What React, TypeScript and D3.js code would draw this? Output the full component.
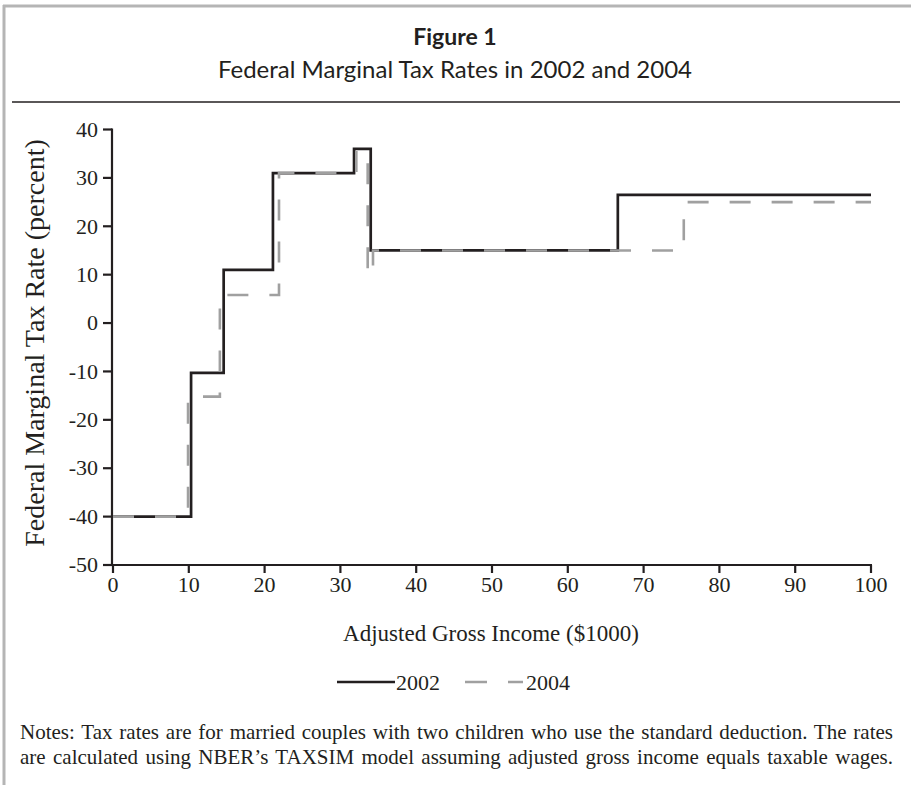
import React, { useRef, useLayoutEffect, useState } from "react";
import * as d3 from "d3";

const xTicks = [0, 10, 20, 30, 40, 50, 60, 70, 80, 90, 100];
const yTicks = [-50, -40, -30, -20, -10, 0, 10, 20, 30, 40];

// Income breakpoints ($1000) and the marginal rate that applies after each breakpoint
const breaks2002 = [0, 10.3, 14.6, 21.1, 31.8, 34.0, 66.6, 100];
const rates2002 = [-40, -10.3, 11, 31, 36, 15, 26.5];
const breaks2004 = [0, 9.9, 14.1, 21.9, 32.1, 33.6, 34.3, 75.3, 100];
const rates2004 = [-40, -15.2, 5.8, 31, 35.3, 10, 15, 25];

const seriesNames = ["2002", "2004"];
const noteLines = [
  "Notes: Tax rates are for married couples with two children who use the standard deduction. The rates",
  "are calculated using NBER\u2019s TAXSIM model assuming adjusted gross income equals taxable wages.",
];

const W = 911;
const H = 785;
const serif = "'Liberation Serif', 'Times New Roman', serif";
const sans = "Lato, 'Open Sans', 'Noto Sans', sans-serif";

function stepPoints(breaks: number[], rates: number[]): [number, number][] {
  const pts: [number, number][] = rates.map((r, i) => [breaks[i], r]);
  pts.push([breaks[breaks.length - 1], rates[rates.length - 1]]);
  return pts;
}

function JustifiedLine({ text, x, y, width }: { text: string; x: number; y: number; width: number }) {
  const ref = useRef<SVGTextElement>(null);
  const [ws, setWs] = useState(0);
  useLayoutEffect(() => {
    if (!ref.current) return;
    const w = ref.current.getComputedTextLength();
    const spaces = (text.match(/ /g) || []).length;
    if (spaces > 0) setWs((width - w) / spaces);
  }, [text, width]);
  return (
    <text ref={ref} x={x} y={y} fontFamily={serif} fontSize={21} fill="#231f20" style={{ wordSpacing: `${ws}px` }}>
      {text}
    </text>
  );
}

export default function App() {
  const x = d3.scaleLinear().domain([0, 100]).range([113, 871]);
  const y = d3.scaleLinear().domain([-50, 40]).range([565, 129.5]);

  const line = d3
    .line<[number, number]>()
    .x((d) => x(d[0]))
    .y((d) => y(d[1]))
    .curve(d3.curveStepAfter);

  const p2002 = line(stepPoints(breaks2002, rates2002)) || "";
  const p2004 = line(stepPoints(breaks2004, rates2004)) || "";

  const ink = "#231f20";
  const gray = "#a0a0a0";

  return (
    <svg width={W} height={H} style={{ position: "absolute", left: 0, top: 0, background: "#fff" }}>
      {/* frame */}
      <line x1={3} x2={W} y1={6} y2={6} stroke="#b5b5b5" strokeWidth={3} />
      <line x1={4} x2={4} y1={5} y2={H} stroke="#b5b5b5" strokeWidth={3} />

      {/* titles */}
      <text x={455} y={45} textAnchor="middle" fontFamily={sans} fontWeight={700} fontSize={23} fill={ink}>
        Figure 1
      </text>
      <text x={455} y={78} textAnchor="middle" fontFamily={sans} fontSize={24} fill={ink}>
        Federal Marginal Tax Rates in 2002 and 2004
      </text>
      <line x1={12} x2={900} y1={102} y2={102} stroke={ink} strokeWidth={1.5} />

      {/* axes */}
      <line x1={x(0) - 1} x2={x(0) - 1} y1={y(40) - 1} y2={y(-50) + 1} stroke={ink} strokeWidth={2.2} />
      <line x1={x(0) - 2} x2={x(100) + 1} y1={y(-50)} y2={y(-50)} stroke={ink} strokeWidth={2.2} />
      {yTicks.map((t) => (
        <g key={"y" + t}>
          <line x1={x(0) - 10} x2={x(0) - 1} y1={y(t)} y2={y(t)} stroke={ink} strokeWidth={2.2} />
          <text x={x(0) - 15} y={y(t)} dy="0.33em" textAnchor="end" fontFamily={serif} fontSize={22} fill={ink}>
            {t}
          </text>
        </g>
      ))}
      {xTicks.map((t) => (
        <g key={"x" + t}>
          <line x1={x(t)} x2={x(t)} y1={y(-50)} y2={y(-50) + 8} stroke={ink} strokeWidth={2.2} />
          <text x={x(t)} y={y(-50) + 27} textAnchor="middle" fontFamily={serif} fontSize={22} fill={ink}>
            {t}
          </text>
        </g>
      ))}
      <text x={491} y={641} textAnchor="middle" fontFamily={serif} fontSize={23} fill={ink}>
        Adjusted Gross Income ($1000)
      </text>
      <text
        transform={`translate(44, 343) rotate(-90)`}
        textAnchor="middle"
        fontFamily={serif}
        fontSize={28}
        fill={ink}
      >
        Federal Marginal Tax Rate (percent)
      </text>

      {/* series */}
      <path d={p2002} fill="none" stroke={ink} strokeWidth={2.7} />
      <path d={p2004} fill="none" stroke={gray} strokeWidth={2.6} strokeDasharray="21,21" />

      {/* legend */}
      <line x1={337} x2={395} y1={682} y2={682} stroke={ink} strokeWidth={2.7} />
      <text x={396} y={690} fontFamily={serif} fontSize={22} fill={ink}>
        {seriesNames[0]}
      </text>
      <line x1={465} x2={523} y1={682} y2={682} stroke={gray} strokeWidth={2.6} strokeDasharray="22,21" />
      <text x={526} y={690} fontFamily={serif} fontSize={22} fill={ink}>
        {seriesNames[1]}
      </text>

      {/* notes */}
      {noteLines.map((t, i) => (
        <JustifiedLine key={i} text={t} x={20} y={739 + i * 25} width={873} />
      ))}
    </svg>
  );
}
